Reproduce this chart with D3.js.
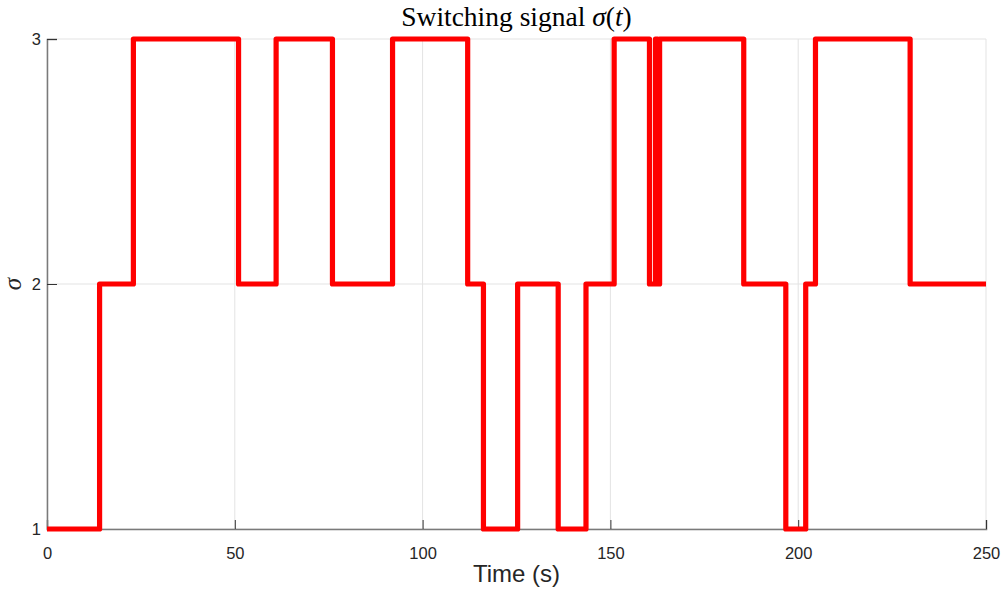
<!DOCTYPE html>
<html>
<head>
<meta charset="utf-8">
<script src="https://cdn.jsdelivr.net/npm/d3@7"></script>
<style>
  html, body { margin: 0; padding: 0; background: #fff; }
  svg { display: block; }
</style>
</head>
<body>
<svg id="chart" width="1003" height="591"></svg>
<script>
// Switching instants (s) and the mode that starts at each instant
const switchTimes = [0, 14, 23, 51, 61, 76, 92, 112, 116.2, 125.3, 136.1, 143.5, 151, 160.4, 162.0, 162.6, 163.1, 185.5, 196.7, 202, 204.6, 229.8, 250];
const modes       = [1, 2, 3, 2, 3, 2, 3, 2, 1, 2, 1, 2, 3, 2, 3, 2, 3, 2, 1, 2, 3, 2, 2];
const xTicks = [0, 50, 100, 150, 200, 250];
const yTicks = [1, 2, 3];

const svg = d3.select("#chart");
const margin = { left: 47, right: 1003 - 986, top: 39, bottom: 591 - 529 };
const W = 1003, H = 591;

const x = d3.scaleLinear().domain([0, 250]).range([margin.left, W - margin.right]);
const y = d3.scaleLinear().domain([1, 3]).range([H - margin.bottom, margin.top]);

const data = switchTimes.map((t, i) => ({ t, v: modes[i] }));

// grid
const grid = svg.append("g");
grid.selectAll(".gx").data(xTicks).join("line")
  .attr("x1", d => x(d)).attr("x2", d => x(d))
  .attr("y1", y(1)).attr("y2", y(3))
  .attr("stroke", "#e3e3e3").attr("stroke-width", 1);
grid.selectAll(".gy").data(yTicks).join("line")
  .attr("y1", d => y(d)).attr("y2", d => y(d))
  .attr("x1", x(0)).attr("x2", x(250))
  .attr("stroke", "#e3e3e3").attr("stroke-width", 1);

// axes
const axCol = "#7a7a7a";
const xAxis = svg.append("g").attr("transform", `translate(0,${y(1)})`)
  .call(d3.axisBottom(x).tickValues(xTicks).tickSize(-9).tickPadding(18).tickFormat(d3.format("d")));
const yAxis = svg.append("g").attr("transform", `translate(${x(0)},0)`)
  .call(d3.axisLeft(y).tickValues(yTicks).tickSize(-10).tickPadding(6).tickFormat(d3.format("d")));
[xAxis, yAxis].forEach(a => {
  a.select(".domain").attr("stroke", axCol).attr("stroke-width", 1.5);
  a.selectAll(".tick line").attr("stroke", "#333").attr("stroke-width", 1);
  a.selectAll(".tick text").attr("fill", "#262626")
    .style("font-family", "'Liberation Sans', Arial, sans-serif").style("font-size", "16.5px");
});
yAxis.selectAll(".tick text").attr("dy", "0.36em");

// signal
svg.append("path").datum(data)
  .attr("fill", "none").attr("stroke", "#ff0000").attr("stroke-width", 5.2)
  .attr("stroke-linejoin", "round")
  .attr("d", d3.line().x(d => x(d.t)).y(d => y(d.v)).curve(d3.curveStepAfter));

// title
const title = svg.append("text").attr("x", (x(0) + x(250)) / 2).attr("y", 26)
  .attr("text-anchor", "middle").attr("fill", "#000")
  .style("font-family", "'Liberation Serif', 'Times New Roman', serif").style("font-size", "27.5px");
title.append("tspan").text("Switching signal ");
title.append("tspan").attr("font-style", "italic").text("σ");
title.append("tspan").text("(");
title.append("tspan").attr("font-style", "italic").text("t");
title.append("tspan").text(")");

// x label
svg.append("text").attr("x", (x(0) + x(250)) / 2).attr("y", 582)
  .attr("text-anchor", "middle").attr("fill", "#262626")
  .style("font-family", "'Liberation Sans', Arial, sans-serif").style("font-size", "24px")
  .text("Time (s)");

// y label
svg.append("text").attr("transform", `translate(21,${y(2)}) rotate(-90)`)
  .attr("text-anchor", "middle").attr("fill", "#262626")
  .style("font-family", "'Liberation Serif', 'Times New Roman', serif").style("font-size", "25px")
  .style("font-style", "italic")
  .text("σ");
</script>
</body>
</html>
